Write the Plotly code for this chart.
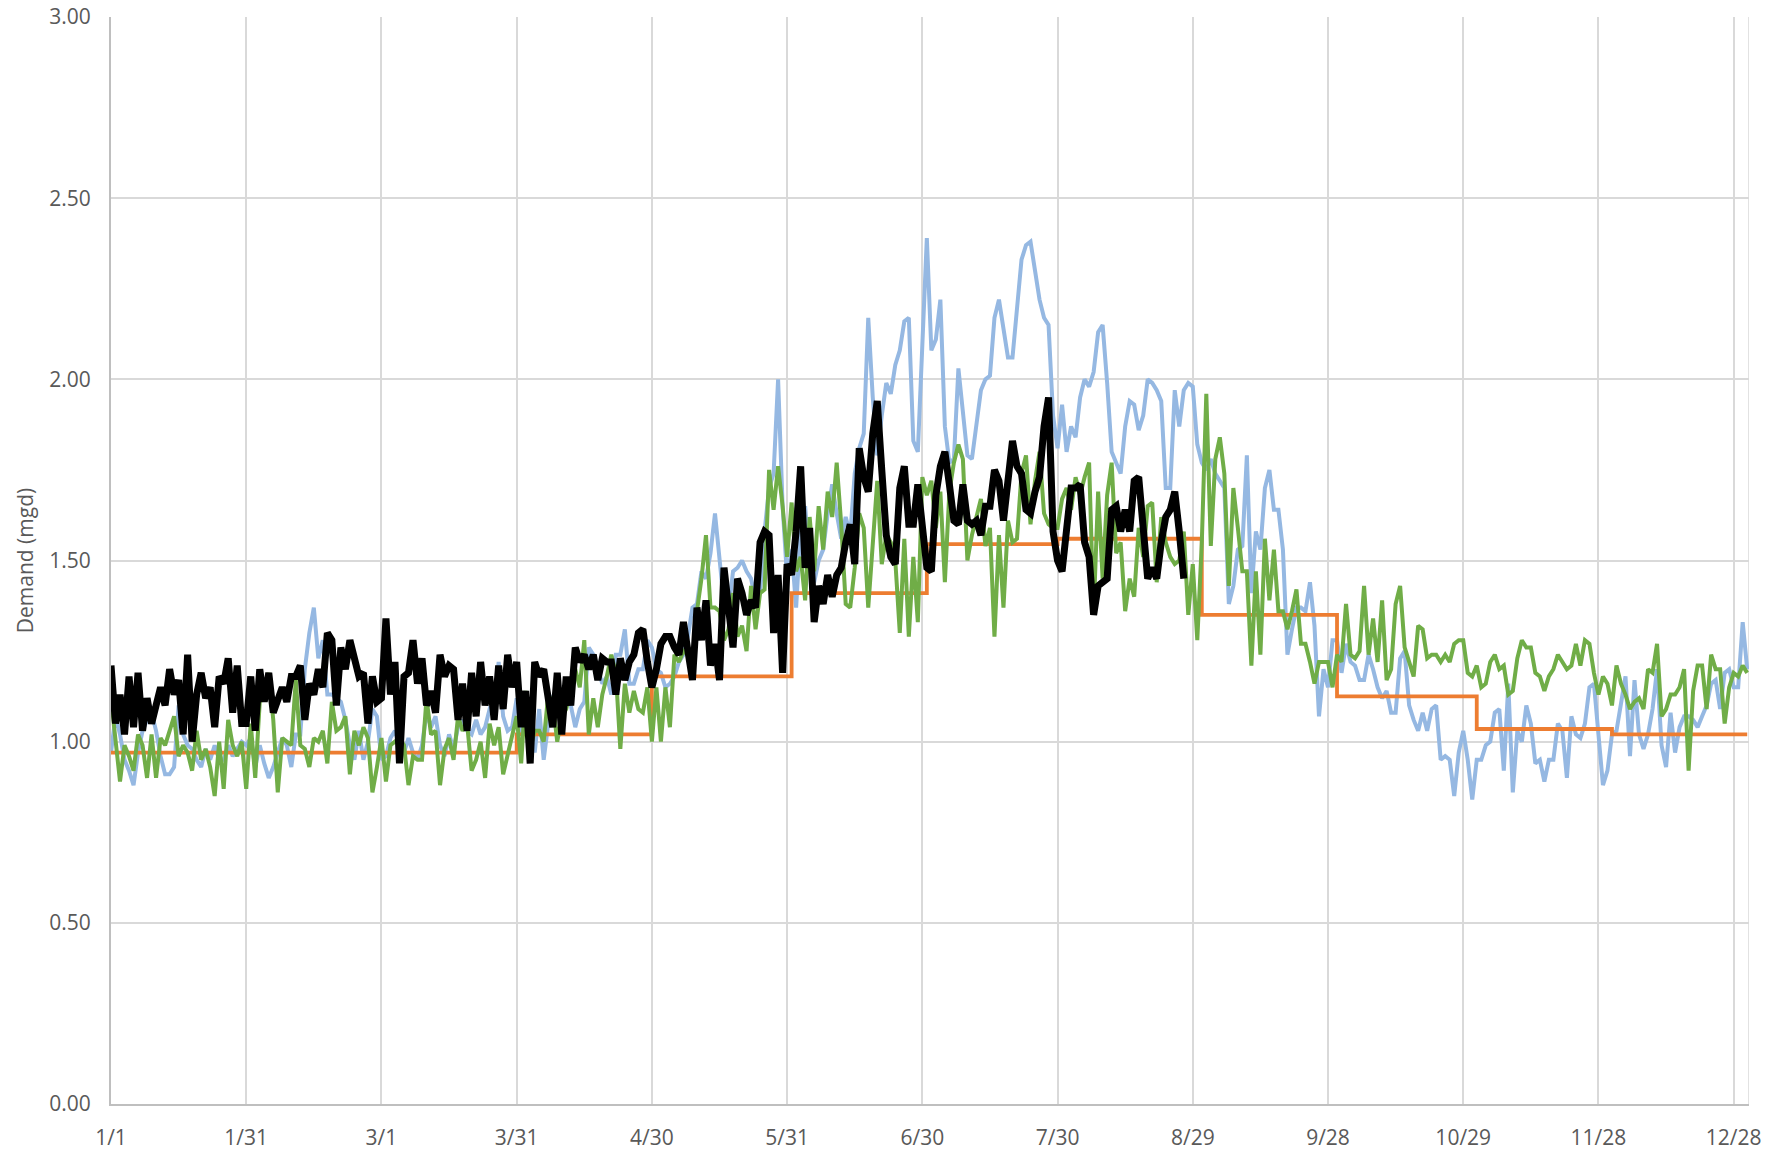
import plotly.graph_objects as go

tick_days = [0, 30, 60, 90, 120, 150, 180, 210, 240, 270, 300, 330, 360]
tick_labels = ["1/1", "1/31", "3/1", "3/31", "4/30", "5/31", "6/30", "7/30",
               "8/29", "9/28", "10/29", "11/28", "12/28"]

blue = [
    0.97, 1.07, 1.02, 0.95, 0.92, 0.88, 0.97, 1.03, 1.06, 1.08,
    1.03, 0.96, 0.91, 0.91, 0.93, 1.10, 1.02, 0.99, 0.98, 0.95,
    0.93, 0.98, 0.95, 0.99, 0.95, 0.95, 0.99, 0.96, 0.98, 1.00,
    0.99, 1.01, 0.93, 0.99, 0.94, 0.90, 0.93, 0.97, 1.01, 0.99,
    0.93, 1.02, 1.02, 1.20, 1.30,
    1.37, 1.23, 1.28, 1.13, 1.13, 1.12, 1.11, 1.06, 0.99, 0.95,
    1.03, 0.95, 1.00, 1.09, 1.07, 0.95, 0.96, 1.01, 1.03, 0.99,
    0.97, 1.01, 0.97, 0.95, 0.99, 1.08, 1.04, 1.07, 0.99, 0.96,
    1.02, 0.98, 1.04, 1.06, 1.03, 1.02, 1.06, 1.02, 1.04, 1.09,
    1.08, 1.22, 1.07, 1.03, 1.04,
    1.12, 1.02, 1.11, 1.05, 0.97, 1.09, 0.95, 1.05, 1.12, 1.11,
    1.09, 1.11, 1.10, 1.04, 1.09, 1.11, 1.26, 1.24, 1.20, 1.16,
    1.18, 1.13, 1.24, 1.24, 1.31, 1.16, 1.16, 1.20, 1.20, 1.28,
    1.26, 1.20, 1.19, 1.15, 1.16, 1.18, 1.22, 1.24, 1.29, 1.37,
    1.38, 1.47,
    1.45, 1.52, 1.63, 1.51, 1.38, 1.36, 1.47, 1.48, 1.50, 1.47,
    1.45, 1.39, 1.41, 1.58, 1.70, 1.74, 2.00, 1.65, 1.45, 1.53,
    1.37, 1.59, 1.65, 1.48, 1.44, 1.50, 1.53, 1.63, 1.71, 1.63,
    1.56, 1.62, 1.57, 1.74,
    1.81, 1.85, 2.17, 1.95, 1.79, 1.90, 1.99, 1.96, 2.04, 2.08,
    2.16, 2.17, 1.83, 1.80, 2.08, 2.39, 2.08, 2.11, 2.22, 1.87,
    1.77, 1.78, 2.03, 1.92, 1.79, 1.78, 1.88, 1.97, 2.00, 2.01,
    2.17, 2.22, 2.14, 2.06, 2.06,
    2.20, 2.33, 2.37, 2.38, 2.30, 2.22, 2.17, 2.15, 1.90, 1.81,
    1.93, 1.80, 1.87, 1.84, 1.95, 2.00, 1.98, 2.02, 2.13, 2.15,
    1.99, 1.80, 1.77, 1.74, 1.87, 1.94, 1.93, 1.86, 1.90, 2.00,
    1.99, 1.97, 1.94, 1.70, 1.70, 1.97, 1.87, 1.97, 1.99, 1.98,
    1.82, 1.77,
    1.75, 1.78, 1.74, 1.72, 1.70, 1.38, 1.43, 1.53, 1.54, 1.79,
    1.41, 1.58, 1.53, 1.70, 1.75, 1.64, 1.64, 1.53, 1.24, 1.31,
    1.37, 1.37, 1.36, 1.44, 1.32, 1.07, 1.20, 1.15, 1.28, 1.28,
    1.19, 1.27, 1.22, 1.21, 1.17, 1.17, 1.24, 1.20, 1.15, 1.12,
    1.14, 1.08, 1.08, 1.23, 1.25, 1.10, 1.06, 1.03, 1.08, 1.03,
    1.09, 1.10, 0.95, 0.96, 0.95, 0.85, 0.97, 1.03, 0.95, 0.84,
    0.95, 0.95, 0.99, 1.00, 1.08, 1.09, 0.92, 1.16, 0.86, 1.03,
    1.00, 1.10, 1.05, 0.94, 0.95, 0.89, 0.95, 0.95, 1.05, 1.03,
    0.90, 1.07, 1.02, 1.01, 1.05, 1.15, 1.16, 1.02, 0.88, 0.92,
    1.02, 1.03, 1.10, 1.18, 0.96, 1.17, 1.02, 0.98, 1.02, 1.09,
    1.20, 0.99, 0.93, 1.08, 0.97, 1.04, 1.07, 1.07, 1.06, 1.04,
    1.07, 1.10, 1.16, 1.17, 1.09, 1.19, 1.20, 1.15, 1.15, 1.33,
    1.20,
]

green = [
    1.12, 1.00, 0.89, 0.99, 0.96, 0.92, 1.02, 0.99, 0.90, 1.02,
    0.90, 1.01, 0.99, 1.03, 1.07, 0.96, 0.99, 0.97, 0.92, 1.03,
    0.95, 0.98, 0.93, 0.85, 1.00, 0.87, 1.06, 0.99, 0.96, 1.00,
    0.87, 1.05, 0.90, 1.11, 1.12, 1.19, 1.06, 0.86, 1.01, 1.00,
    0.99, 1.17, 0.99, 0.98, 0.93, 1.01, 1.00,
    1.03, 0.94, 1.11, 1.03, 1.04, 1.07, 0.91, 1.03, 0.99, 1.04,
    1.01, 0.86, 0.93, 1.01, 0.89, 0.99, 1.00, 1.01, 0.99, 0.88,
    0.96, 0.95, 0.95, 1.12, 1.02, 1.03, 0.88, 0.98, 1.01, 0.95,
    1.07, 1.03, 1.05, 0.92, 0.95, 1.00, 0.90, 1.05, 0.99, 1.04,
    0.91, 0.96, 1.01,
    1.07, 0.94, 1.14, 0.98, 1.03, 1.03, 1.00, 1.13, 1.11, 1.00,
    1.07, 1.09, 1.15, 1.20, 1.15, 1.28, 1.02, 1.12, 1.04, 1.13,
    1.18, 1.24, 1.19, 0.98, 1.16, 1.08, 1.14, 1.09, 1.08, 1.15,
    1.00, 1.15, 1.00, 1.15, 1.04, 1.24, 1.22, 1.25, 1.24, 1.22,
    1.36, 1.45,
    1.57, 1.37, 1.37, 1.36, 1.28, 1.31, 1.41, 1.29, 1.32, 1.25,
    1.43, 1.31, 1.41, 1.42, 1.75, 1.64, 1.76, 1.65, 1.51, 1.66,
    1.47, 1.51, 1.39, 1.62, 1.47, 1.65, 1.53, 1.69, 1.62, 1.77,
    1.60, 1.38, 1.37, 1.48,
    1.63, 1.59, 1.37, 1.56, 1.72, 1.49, 1.57, 1.55, 1.50, 1.30,
    1.56, 1.29, 1.51, 1.33, 1.73, 1.68, 1.72, 1.59, 1.69, 1.44,
    1.69, 1.77, 1.82, 1.78, 1.50, 1.57, 1.62, 1.67, 1.54, 1.59,
    1.29, 1.57, 1.37, 1.61, 1.55, 1.56,
    1.74, 1.79, 1.60, 1.72, 1.80, 1.63, 1.60, 1.59, 1.59, 1.67,
    1.70, 1.64, 1.73, 1.68, 1.73, 1.77, 1.35, 1.69, 1.45, 1.68,
    1.77, 1.52, 1.55, 1.36, 1.45, 1.40, 1.59, 1.51, 1.65, 1.66,
    1.44, 1.62, 1.55, 1.51, 1.49, 1.50, 1.58, 1.35, 1.49, 1.28,
    1.55, 1.96,
    1.54, 1.78, 1.84, 1.74, 1.43, 1.70, 1.59, 1.47, 1.47, 1.21,
    1.47, 1.24, 1.56, 1.39, 1.53, 1.36, 1.36, 1.31, 1.36, 1.42,
    1.27, 1.27, 1.22, 1.16, 1.22, 1.22, 1.22, 1.15, 1.24, 1.22,
    1.38, 1.24, 1.23, 1.25, 1.43, 1.24, 1.34, 1.22, 1.39,
    1.17, 1.20, 1.38, 1.43, 1.26, 1.22, 1.18, 1.32, 1.31, 1.23,
    1.24, 1.24, 1.22, 1.24, 1.22, 1.27, 1.28, 1.28, 1.19, 1.18,
    1.21, 1.15, 1.16, 1.22, 1.24, 1.20, 1.21, 1.13, 1.14, 1.23,
    1.28, 1.26, 1.26, 1.19, 1.18, 1.14, 1.18, 1.20, 1.24, 1.22,
    1.20, 1.21, 1.27, 1.21, 1.28, 1.27, 1.19, 1.13, 1.18, 1.16,
    1.10, 1.21, 1.16, 1.13, 1.09, 1.11, 1.12, 1.09, 1.20, 1.19,
    1.27, 1.07, 1.09, 1.13, 1.13, 1.15, 1.20, 0.92, 1.14, 1.21,
    1.21, 1.09, 1.24, 1.20, 1.20, 1.05, 1.15, 1.19, 1.18, 1.21,
    1.19,
]

black = [
    1.21, 1.05, 1.13, 1.02, 1.18, 1.04, 1.19, 1.03, 1.12, 1.05,
    1.10, 1.15, 1.10, 1.20, 1.13, 1.17, 1.02, 1.24, 1.00, 1.13,
    1.19, 1.12, 1.15, 1.04, 1.18, 1.16, 1.23, 1.08, 1.21, 1.05,
    1.05, 1.18, 1.03, 1.20, 1.11, 1.19, 1.08, 1.12, 1.15, 1.11,
    1.18, 1.18, 1.21, 1.06, 1.16, 1.13, 1.20,
    1.15, 1.30, 1.28, 1.10, 1.26, 1.20, 1.28, 1.23, 1.18, 1.19,
    1.05, 1.18, 1.11, 1.12, 1.34, 1.13, 1.22, 0.94, 1.18, 1.19,
    1.28, 1.16, 1.23, 1.10, 1.14, 1.08, 1.24, 1.18, 1.21, 1.20,
    1.06, 1.16, 1.03, 1.19, 1.07, 1.22, 1.10, 1.18, 1.06, 1.21,
    1.09, 1.24, 1.15,
    1.22, 1.04, 1.14, 0.94, 1.22, 1.18, 1.20, 1.11, 1.04, 1.19,
    1.02, 1.18, 1.10, 1.26, 1.22, 1.24, 1.20, 1.24, 1.17, 1.23,
    1.22, 1.22, 1.13, 1.23, 1.17, 1.22, 1.24, 1.30, 1.31, 1.22,
    1.15, 1.20, 1.27, 1.29, 1.29, 1.26, 1.24, 1.33, 1.24, 1.17,
    1.37, 1.28,
    1.39, 1.21, 1.27, 1.17, 1.48, 1.37, 1.26, 1.45, 1.41, 1.35,
    1.39, 1.37, 1.55, 1.58, 1.57, 1.30, 1.46, 1.19, 1.49, 1.46,
    1.58, 1.76, 1.48, 1.59, 1.33, 1.43, 1.38, 1.46, 1.40, 1.46,
    1.48, 1.55, 1.60, 1.49,
    1.81, 1.73, 1.69, 1.85, 1.94, 1.75, 1.57, 1.51, 1.49, 1.70,
    1.76, 1.60, 1.60, 1.71, 1.60, 1.48, 1.47, 1.68, 1.76, 1.80,
    1.71, 1.61, 1.60, 1.71, 1.61, 1.60, 1.61, 1.57, 1.65, 1.65,
    1.75, 1.72, 1.61, 1.72, 1.83, 1.76,
    1.74, 1.64, 1.63, 1.69, 1.73, 1.87, 1.95, 1.58, 1.50, 1.47,
    1.59, 1.70, 1.70, 1.71, 1.55, 1.51, 1.35, 1.43, 1.44, 1.45,
    1.64, 1.65, 1.58, 1.64, 1.58, 1.72, 1.73, 1.59, 1.45, 1.48,
    1.45, 1.55, 1.62, 1.64, 1.69, 1.58, 1.45,
]

orange_start_day = [0, 90, 120, 151, 181, 210, 242, 272, 303, 333]
orange_value = [0.97, 1.02, 1.18, 1.41, 1.545, 1.56, 1.35, 1.125, 1.035, 1.02]

n_days = len(blue)
x_end = n_days - 1 + 0.4

fig = go.Figure()

fig.add_trace(go.Scatter(
    x=list(range(len(blue))), y=blue, mode="lines",
    line=dict(color="#95B8E2", width=4), name="Blue"))

fig.add_trace(go.Scatter(
    x=orange_start_day + [n_days - 1], y=orange_value + [orange_value[-1]],
    mode="lines", line=dict(color="#ED7D31", width=3.8, shape="hv"),
    name="Orange"))

fig.add_trace(go.Scatter(
    x=list(range(len(green))), y=green, mode="lines",
    line=dict(color="#70AD47", width=4), name="Green"))

fig.add_trace(go.Scatter(
    x=list(range(len(black))), y=black, mode="lines",
    line=dict(color="#000000", width=7), name="Black"))

font_family = "Open Sans, Noto Sans, DejaVu Sans, sans-serif"

fig.update_layout(
    width=1783, height=1154,
    margin=dict(l=111, r=34, t=17, b=50),
    plot_bgcolor="white", paper_bgcolor="white",
    showlegend=False,
    font=dict(family=font_family, size=21, color="#595959"),
    shapes=[dict(type="line", xref="x", yref="paper", x0=x_end, x1=x_end,
                 y0=0, y1=1, line=dict(color="#d9d9d9", width=1.5),
                 layer="below")],
)

fig.update_xaxes(
    range=[0, x_end], automargin=False,
    tickmode="array", tickvals=tick_days, ticktext=tick_labels,
    showgrid=True, gridcolor="#d9d9d9", gridwidth=1.5,
    showline=True, linecolor="#bfbfbf", linewidth=2,
    zeroline=False, ticks="", ticklabelstandoff=14,
    tickfont=dict(family=font_family, size=21, color="#595959"),
)

fig.update_yaxes(
    range=[0, 3], dtick=0.5, tick0=0, tickformat=".2f", automargin=False,
    showgrid=True, gridcolor="#d9d9d9", gridwidth=1.5,
    showline=True, linecolor="#bfbfbf", linewidth=2,
    zeroline=False, ticks="", ticklabelstandoff=14,
    tickfont=dict(family=font_family, size=21, color="#595959"),
    title=dict(text="Demand (mgd)", standoff=10,
               font=dict(family=font_family, size=21, color="#595959")),
)

fig.write_html(
    "out.html",
    config={"displayModeBar": False},
    post_script="document.body.style.margin='0';document.body.style.padding='0';"
                "document.body.style.overflow='hidden';",
)
